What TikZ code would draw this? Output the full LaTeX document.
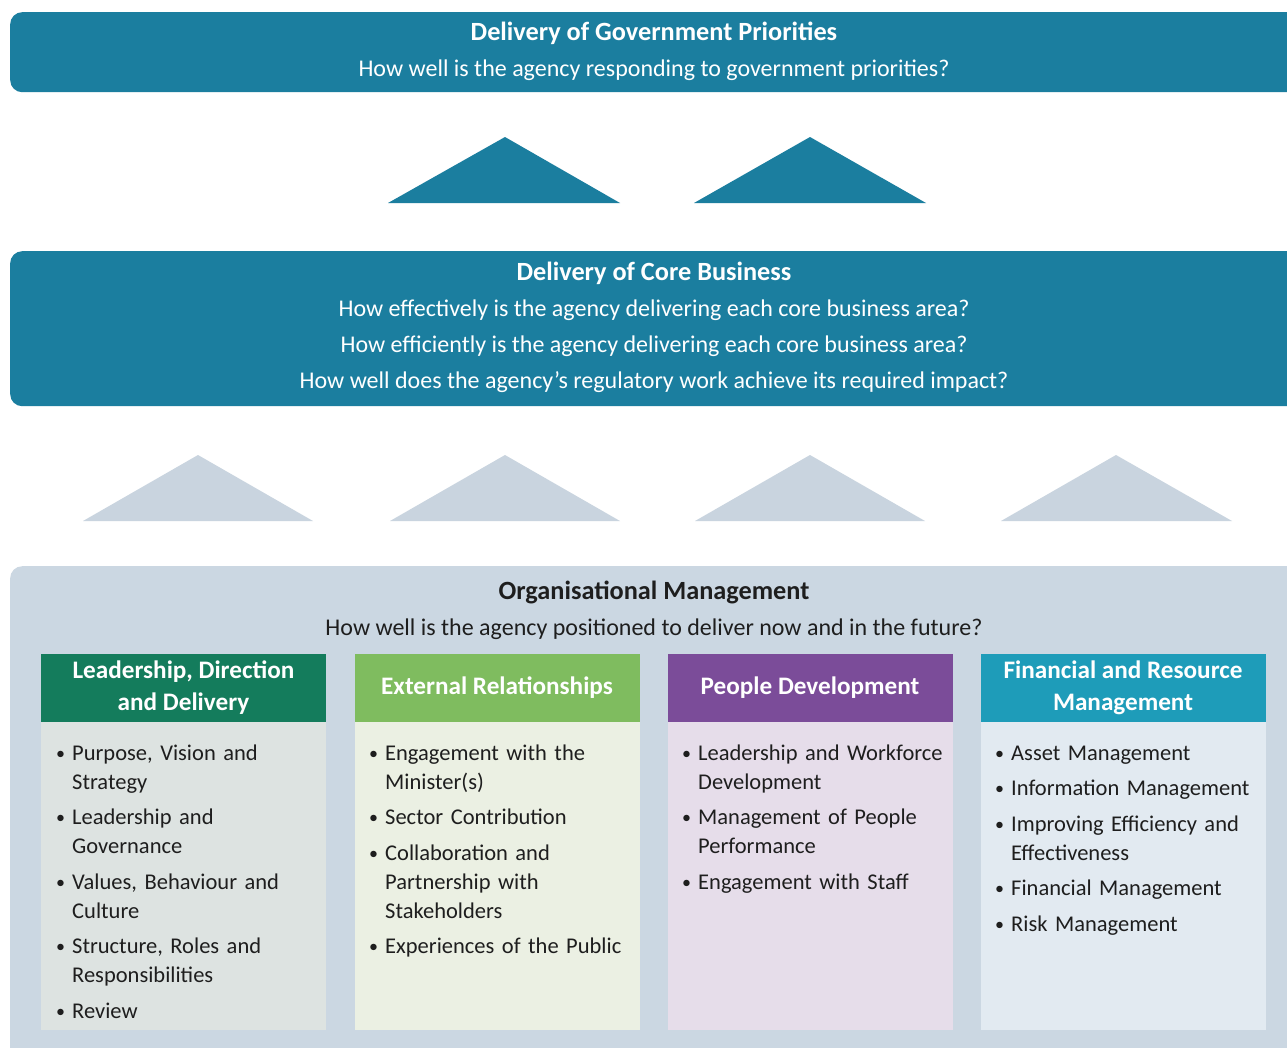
\documentclass[tikz,border=0pt]{standalone}
\usepackage{fontspec}
\setmainfont{Carlito}
\definecolor{bannerc}{HTML}{1B7E9F}
\definecolor{trilight}{HTML}{C9D4DF}
\definecolor{panelc}{HTML}{CBD7E2}
\definecolor{hdA}{HTML}{147C5C}
\definecolor{hdB}{HTML}{7FBC5F}
\definecolor{hdC}{HTML}{7B4C99}
\definecolor{hdD}{HTML}{1E9CB9}
\definecolor{bdA}{HTML}{DDE3E1}
\definecolor{bdB}{HTML}{EBF0E3}
\definecolor{bdC}{HTML}{E6DDEA}
\definecolor{bdD}{HTML}{E2EAF1}
\definecolor{txtc}{HTML}{1E1E1E}
\newcommand\bitem[1]{{\leftskip=16pt\relax\noindent\hskip-16pt\hbox to 16pt{\raisebox{1pt}{\scalebox{0.8}{\textbullet}}\hss}#1\par}}
\tikzset{
  banner/.style={fill=bannerc, rounded corners=12pt, anchor=north west, inner sep=0pt},
  wtitle/.style={text=white, font=\bfseries\fontsize{26.3}{30}\selectfont, inner sep=0pt},
  wtext/.style={text=white, font=\fontsize{24}{36}\selectfont, align=center, inner sep=0pt},
  dtitle/.style={text=txtc, font=\bfseries\fontsize{26.3}{30}\selectfont, inner sep=0pt},
  dtext/.style={text=txtc, font=\fontsize{24}{28}\selectfont, inner sep=0pt},
  colhead/.style={minimum width=285pt, minimum height=68pt, inner sep=0pt, text=white, align=center,
    font=\bfseries\fontsize{25.2}{32}\selectfont},
  colbody/.style={minimum width=285pt, minimum height=308pt, anchor=north west, inner sep=0pt},
  itemlist/.style={anchor=base west, text width=268pt, inner sep=0pt, align=left, text=txtc,
    font=\fontsize{22.5}{29}\selectfont},
  darktri/.style={fill=bannerc},
  lighttri/.style={fill=trilight}
}
\begin{document}
\begin{tikzpicture}[x=1pt,y=-1pt]
\useasboundingbox (0,0) rectangle (1287,1047);
\clip (0,0) rectangle (1287,1047);
\fill[white] (0,0) rectangle (1287,1047);

% top banner
\node[banner, minimum width=1320pt, minimum height=80pt] (gov) at (10,12) {};
\node[wtitle] (govt) at (654,33.5) {Delivery of Government Priorities};
\node[wtext] (govq) at (654,70.5) {How well is the agency responding to government priorities?};

% dark triangles
\fill[darktri] (388,203) -- (505,137) -- (620,203) -- cycle;
\fill[darktri] (694,203) -- (810,137) -- (926,203) -- cycle;

% core banner
\node[banner, minimum width=1320pt, minimum height=155pt] (core) at (10,251) {};
\node[wtitle] (coret) at (654,273.5) {Delivery of Core Business};
\node[wtext, anchor=north] (coreq) at (654,300) {How effectively is the agency delivering each core business area?\\How efficiently is the agency delivering each core business area?\\How well does the agency’s regulatory work achieve its required impact?};

% light triangles
\fill[lighttri] (83,521) -- (198,455) -- (313,521) -- cycle;
\fill[lighttri] (390,521) -- (505,455) -- (620,521) -- cycle;
\fill[lighttri] (695,521) -- (810,455) -- (925,521) -- cycle;
\fill[lighttri] (1001,521) -- (1116,455) -- (1232,521) -- cycle;

% organisational panel
\node[banner, fill=panelc, minimum width=1320pt, minimum height=520pt] (org) at (10,566) {};
\node[dtitle] (orgt) at (654,592) {Organisational Management};
\node[dtext] (orgq) at (654,629) {How well is the agency positioned to deliver now and in the future?};

% column headers
\node[colhead, fill=hdA] (hA) at (183.5,688) {Leadership, Direction\\and Delivery};
\node[colhead, fill=hdB] (hB) at (497,688) {External Relationships};
\node[colhead, fill=hdC] (hC) at (810,688) {People Development};
\node[colhead, fill=hdD] (hD) at (1123,688) {Financial and Resource\\Management};

% column bodies
\node[colbody, fill=bdA] (bA) at (41,722) {};
\node[colbody, fill=bdB] (bB) at (354.5,722) {};
\node[colbody, fill=bdC] (bC) at (667.5,722) {};
\node[colbody, fill=bdD] (bD) at (980.5,722) {};

% lists
\node[itemlist] (lA) at (56,760) {\setlength\parskip{6.5pt}%
\bitem{Purpose, Vision and\\Strategy}
\bitem{Leadership and\\Governance}
\bitem{Values, Behaviour and\\Culture}
\bitem{Structure, Roles and\\Responsibilities}
\bitem{Review}};
\node[itemlist] (lB) at (369,760) {\setlength\parskip{6.5pt}%
\bitem{Engagement with the\\Minister(s)}
\bitem{Sector Contribution}
\bitem{Collaboration and\\Partnership with\\Stakeholders}
\bitem{Experiences of the Public}};
\node[itemlist] (lC) at (682,760) {\setlength\parskip{6.5pt}%
\bitem{Leadership and Workforce\\Development}
\bitem{Management of People\\Performance}
\bitem{Engagement with Staff}};
\node[itemlist] (lD) at (995,760) {\setlength\parskip{6.5pt}%
\bitem{Asset Management}
\bitem{Information Management}
\bitem{Improving Efficiency and\\Effectiveness}
\bitem{Financial Management}
\bitem{Risk Management}};
\end{tikzpicture}
\end{document}
